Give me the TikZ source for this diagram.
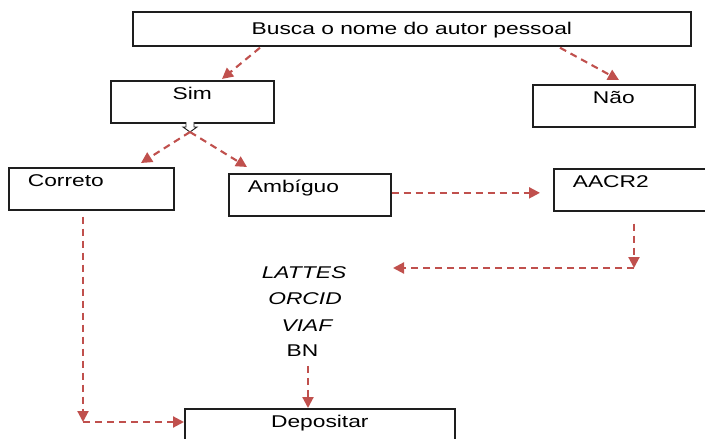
\documentclass[tikz,border=0pt]{standalone}
\usepackage{fontspec}
\setmainfont{Liberation Sans}
\usetikzlibrary{arrows.meta,positioning}
\definecolor{arrowred}{RGB}{192,80,77}
\definecolor{boxline}{RGB}{30,30,30}
\newcommand{\wide}[1]{\scalebox{1.34}[1]{#1}}
\tikzstyle{box} = [rectangle, draw=boxline, line width=1.7pt, inner sep=0pt, anchor=north west, text height=19pt, text depth=23pt, font=\fontsize{17}{19}\selectfont]
\tikzstyle{leftbox} = [box, inner xsep=19pt, align=left]
\tikzstyle{item} = [inner sep=0pt, anchor=base, font=\fontsize{17}{19}\selectfont]
\tikzstyle{dasharrow} = [draw=arrowred, line width=2.1pt, dash pattern=on 7pt off 5pt, -{Triangle[length=11pt,width=11pt]}]

\begin{document}
\begin{tikzpicture}[x=1pt, y=-1pt]
    \useasboundingbox (0,0) rectangle (705,439);
    \clip (0,0) rectangle (705,439);

    \node (busca) [box, minimum width=558pt, text height=23pt, text depth=11pt] at (132,11) {\wide{Busca o nome do autor pessoal}};
    \node (sim) [box, minimum width=163pt] at (110,80) {\wide{Sim}};
    \node (nao) [box, minimum width=162pt] at (532,84) {\wide{Não}};
    \node (correto) [leftbox, text width=127pt] at (8,167) {\wide{Correto}};
    \node (ambiguo) [leftbox, text width=124pt] at (228,173) {\wide{Ambíguo}};
    \node (aacr) [leftbox, text width=124pt] at (553,168) {\wide{AACR2}};
    \node (depositar) [box, minimum width=270pt] at (184,408) {\wide{Depositar}};

    \node (lattes) [item] at (304,278) {\wide{\itshape LATTES}};
    \node (orcid) [item] at (305,304) {\wide{\itshape ORCID}};
    \node (viaf) [item] at (307,331) {\wide{\itshape VIAF}};
    \node (bn) [item] at (302.5,356.7) {\wide{BN}};

    % small hollow arrow under Sim
    \draw [boxline, line width=0.9pt, fill=white] (186,122) -- (186,127) -- (183,127) -- (190,132) -- (197,127) -- (194,127) -- (194,122);
    \coordinate (fork) at (190,132);
    \coordinate (aacrbend) at (634,268);
    \coordinate (listin) at (393,268);
    \coordinate (corbend) at (83,422);

    \draw [dasharrow] ([xshift=128pt,yshift=-1pt]busca.south west) -- ([xshift=112pt,yshift=1pt]sim.north west);
    \draw [dasharrow] ([xshift=428pt,yshift=-1pt]busca.south west) -- ([xshift=87pt,yshift=4pt]nao.north west);
    \draw [dasharrow] (fork) -- ([xshift=133pt,yshift=4pt]correto.north west);
    \draw [dasharrow] (fork) -- ([xshift=19pt,yshift=6pt]ambiguo.north west);
    \draw [dasharrow, shorten >=13pt] ([yshift=2pt]ambiguo.east) -- ([yshift=2pt]ambiguo.east -| aacr.west);
    \draw [dasharrow] ([xshift=81pt,yshift=-12pt]aacr.south west) -- (aacrbend);
    \draw [dasharrow] (aacrbend) -- (listin);
    \draw [dasharrow] ([xshift=75pt,yshift=-6pt]correto.south west) -- (corbend);
    \draw [dasharrow] (corbend) -- (corbend -| depositar.west);
    \draw [dasharrow] ([xshift=5.5pt,yshift=-9pt]bn.south) -- ([xshift=5.5pt]bn.south |- depositar.north);
\end{tikzpicture}
\end{document}
